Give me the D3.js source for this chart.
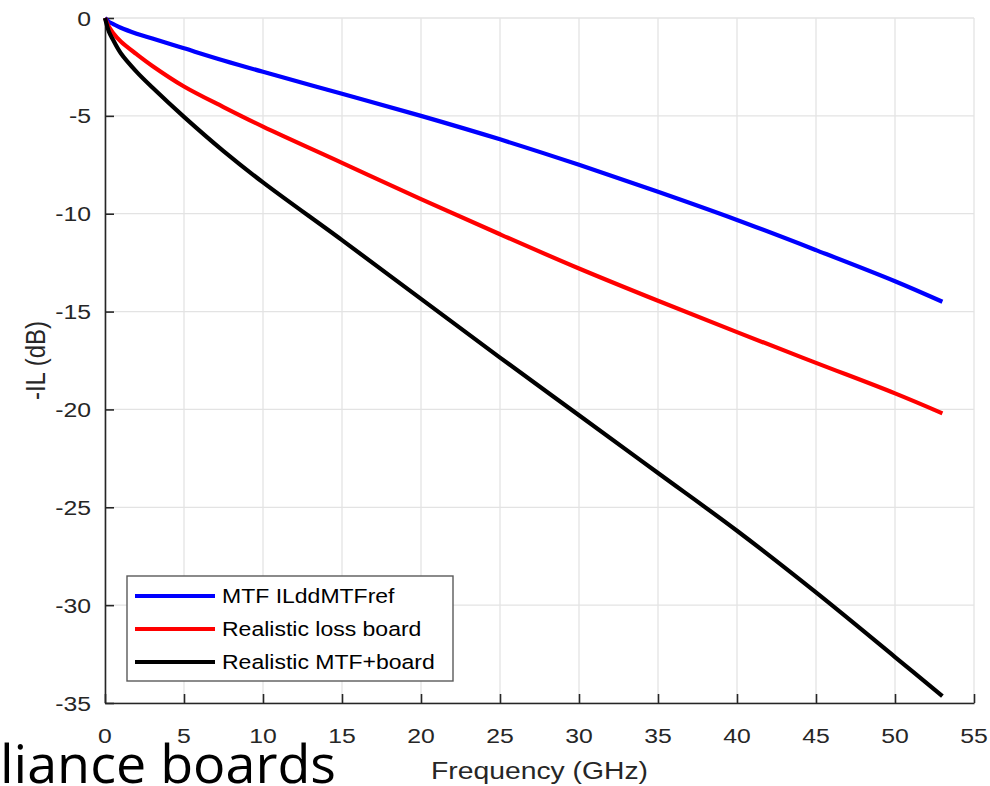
<!DOCTYPE html>
<html>
<head>
<meta charset="utf-8">
<script src="https://cdn.jsdelivr.net/npm/d3@7"></script>
<style>
  body { margin: 0; background: #fff; }
  svg { display: block; }
</style>
</head>
<body>
<div id="chart"></div>
<script>
// frequency points (GHz)
var freq = [0, 0.25, 0.5, 1, 2, 3, 5, 7.5, 10, 15, 20, 25, 30, 35, 40, 45, 50, 53];

// -IL (dB) for each series
var mtfRef = [0, -0.2, -0.3, -0.5, -0.8, -1.05, -1.55, -2.17, -2.75, -3.87, -5.0, -6.2, -7.5, -8.88, -10.32, -11.86, -13.45, -14.5];
var lossBoard = [0, -0.45, -0.75, -1.2, -1.85, -2.45, -3.5, -4.55, -5.55, -7.4, -9.25, -11.05, -12.8, -14.45, -16.05, -17.62, -19.18, -20.2];
var mtfBoard = [0, -0.7, -1.1, -1.8, -2.75, -3.55, -5.05, -6.8, -8.4, -11.35, -14.35, -17.35, -20.3, -23.25, -26.2, -29.35, -32.65, -34.65];

var seriesNames = ['MTF ILddMTFref', 'Realistic loss board', 'Realistic MTF+board'];
var xTicks = [0, 5, 10, 15, 20, 25, 30, 35, 40, 45, 50, 55];
var yTicks = [0, -5, -10, -15, -20, -25, -30, -35];

var W = 990, H = 786;
var margin = {top: 18, right: 16, bottom: 83, left: 105};
var Gwidth = W - margin.left - margin.right;
var Gheight = H - margin.top - margin.bottom;
var colors = ['#0000ff', '#ff0000', '#000000'];
var stretch = 1.18;   // the whole figure looks widened a bit
var font = 'Liberation Sans, Arial, Helvetica, sans-serif';
var axisColor = '#262626';

var svg = d3.select('#chart').append('svg')
    .attr('width', W)
    .attr('height', H);

var topG = svg.append('g')
    .attr('transform', 'translate(' + margin.left + ',' + margin.top + ')');

var scaleX = d3.scaleLinear().domain([0, 55]).range([0, Gwidth]);
var scaleY = d3.scaleLinear().domain([-35, 0]).range([Gheight, 0]);

// grid
topG.append('g').selectAll('line')
    .data(xTicks).enter().append('line')
    .attr('x1', d => scaleX(d)).attr('x2', d => scaleX(d))
    .attr('y1', 0).attr('y2', Gheight)
    .attr('stroke', '#e3e3e3').attr('stroke-width', 1.3);

topG.append('g').selectAll('line')
    .data(yTicks).enter().append('line')
    .attr('y1', d => scaleY(d)).attr('y2', d => scaleY(d))
    .attr('x1', 0).attr('x2', Gwidth)
    .attr('stroke', '#e3e3e3').attr('stroke-width', 1.3);

// axes, ticks pointing inward, labels drawn separately
var xAxis = topG.append('g')
    .attr('transform', 'translate(0,' + Gheight + ')')
    .call(d3.axisBottom(scaleX).tickValues(xTicks).tickSizeInner(-9).tickSizeOuter(0).tickFormat(''));
var yAxis = topG.append('g')
    .call(d3.axisLeft(scaleY).tickValues(yTicks).tickSizeInner(-9).tickSizeOuter(0).tickFormat(''));

[xAxis, yAxis].forEach(function(a) {
  a.select('.domain').attr('stroke', axisColor).attr('stroke-width', 1.6);
  a.selectAll('.tick line').attr('stroke', axisColor).attr('stroke-width', 1.6);
});

// tick labels
topG.append('g').selectAll('text')
    .data(xTicks).enter().append('text')
    .attr('transform', d => 'translate(' + scaleX(d) + ',' + (Gheight + 40) + ') scale(' + stretch + ',1)')
    .attr('text-anchor', 'middle')
    .attr('font-family', font).attr('font-size', 21)
    .attr('fill', axisColor)
    .text(d => d);

topG.append('g').selectAll('text')
    .data(yTicks).enter().append('text')
    .attr('transform', d => 'translate(-14,' + (scaleY(d) + 7.5) + ') scale(' + stretch + ',1)')
    .attr('text-anchor', 'end')
    .attr('font-family', font).attr('font-size', 21)
    .attr('fill', axisColor)
    .text(d => d);

// axis titles
topG.append('text')
    .attr('transform', 'translate(' + (Gwidth / 2) + ',' + (Gheight + 76) + ') scale(' + stretch + ',1)')
    .attr('text-anchor', 'middle')
    .attr('font-family', font).attr('font-size', 24)
    .attr('fill', axisColor)
    .text('Frequency (GHz)');

topG.append('text')
    .attr('transform', 'translate(' + (0 - margin.left + 45) + ',' + (Gheight / 2) + ') scale(' + stretch + ',1) rotate(-90)')
    .attr('text-anchor', 'middle')
    .attr('font-family', font).attr('font-size', 24)
    .attr('fill', axisColor)
    .text('-IL (dB)');

// lines
var data = freq.map(function(f, i) {
  return {f: f, v: [mtfRef[i], lossBoard[i], mtfBoard[i]]};
});

var chartArea = topG.append('g');
[0, 1, 2].forEach(function(k) {
  var valueLine = d3.line()
      .x(d => scaleX(d.f))
      .y(d => scaleY(d.v[k]))
      .curve(d3.curveCatmullRom.alpha(0.5));
  chartArea.append('path')
      .datum(data)
      .attr('d', valueLine)
      .attr('fill', 'none')
      .attr('stroke', colors[k])
      .attr('stroke-width', 4.2);
});

// legend
var legend = svg.append('g').attr('transform', 'translate(127,576)');
legend.append('rect')
    .attr('width', 326).attr('height', 105)
    .attr('fill', '#fff')
    .attr('stroke', '#5a5a5a').attr('stroke-width', 1.4);

seriesNames.forEach(function(name, i) {
  var yy = 20 + i * 33;
  legend.append('line')
      .attr('x1', 8).attr('x2', 88)
      .attr('y1', yy).attr('y2', yy)
      .attr('stroke', colors[i]).attr('stroke-width', 4.2);
  legend.append('text')
      .attr('transform', 'translate(95,' + (yy + 7) + ') scale(' + stretch + ',1)')
      .attr('font-family', font).attr('font-size', 19.5)
      .attr('fill', '#000')
      .text(name);
});

// slide title text showing through at the bottom left
svg.append('text')
    .attr('x', 0).attr('y', 783)
    .attr('font-family', 'Open Sans, Noto Sans, sans-serif')
    .attr('font-size', 53)
    .attr('textLength', 336)
    .attr('lengthAdjust', 'spacingAndGlyphs')
    .attr('fill', '#000')
    .text('liance boards');
</script>
</body>
</html>
